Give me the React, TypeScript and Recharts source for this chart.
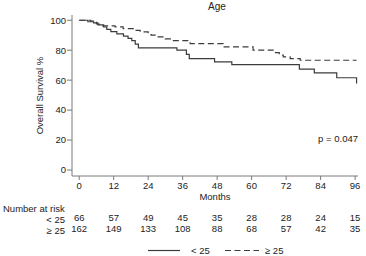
import { LineChart, Line, XAxis, YAxis } from "recharts";

// survival steps (month, % surviving after that month)
const youngMonths = [0, 3, 5, 6.5, 8.5, 9.6, 11, 13.1, 15.4, 17, 18.3, 19.5, 20.6, 34, 37.3, 38.3, 47.1, 53.1, 76.6, 81.8, 89.6, 96.5];
const youngSurv = [100, 99, 98.2, 96.9, 95.5, 93.9, 92.4, 90.9, 89.4, 87.9, 86.4, 84.1, 81.5, 80, 77.2, 74.4, 72.2, 70.4, 67.3, 64.9, 61.6, 57.8];

const olderMonths = [0, 4, 5, 6, 7, 12.5, 15.3, 19.8, 21.2, 24, 25, 26.4, 29.9, 31.7, 38.6, 50.1, 60.5, 67.8, 69.6, 71, 73.4, 76.9, 96.5];
const olderSurv = [100, 99.4, 98.8, 97.5, 96.3, 95.6, 94.4, 93.3, 92.2, 91.1, 90, 88.9, 87.5, 86.4, 84.4, 82.2, 80, 78.4, 76.8, 75.6, 74.4, 73.3, 73.3];

const monthTicks = [0, 12, 24, 36, 48, 60, 72, 84, 96];
const survTicks = [0, 20, 40, 60, 80, 100];
const riskYoung = [66, 57, 49, 45, 35, 28, 28, 24, 15];
const riskOlder = [162, 149, 133, 108, 88, 68, 57, 42, 35];

const young = youngMonths.map((m, i) => ({ m, s: youngSurv[i] }));
const older = olderMonths.map((m, i) => ({ m, s: olderSurv[i] }));

const FONT = '"Liberation Sans", Arial, sans-serif';
const INK = "#222";
const AXIS = "#7a7a7a";
const LINE = "#3c3c3c";
const xDomain: [number, number] = [-2.5, 97];

function riskLabel(counts: number[]) {
  return (v: number) => {
    const i = monthTicks.indexOf(Math.round(v));
    return i < 0 ? "" : String(counts[i]);
  };
}

export default function App() {
  return (
    <div style={{ position: "absolute", left: 0, top: 0, width: 366, height: 256, fontFamily: FONT, background: "#fff" }}>
      <LineChart width={366} height={256} margin={{ top: 15, right: 8, bottom: 20, left: 8 }}>
        <XAxis
          xAxisId="main"
          type="number"
          dataKey="m"
          domain={xDomain}
          allowDataOverflow
          ticks={monthTicks}
          stroke={AXIS}
          tickSize={4}
          tickMargin={2}
          tick={{ fontSize: 9.5, fill: INK }}
          height={27}
          label={{ value: "Months", position: "insideBottom", offset: 3, fontSize: 9.5, fill: INK }}
        />
        {/* number-at-risk rows share the month scale */}
        <XAxis
          xAxisId="r1"
          type="number"
          dataKey="m"
          domain={xDomain}
          allowDataOverflow
          ticks={monthTicks}
          tickFormatter={riskLabel(riskYoung)}
          axisLine={false}
          tickLine={false}
          tickSize={0}
          tickMargin={11}
          tick={{ fontSize: 9.5, fill: INK }}
          height={22}
        />
        <XAxis
          xAxisId="r2"
          type="number"
          dataKey="m"
          domain={xDomain}
          allowDataOverflow
          ticks={monthTicks}
          tickFormatter={riskLabel(riskOlder)}
          axisLine={false}
          tickLine={false}
          tickSize={0}
          tickMargin={0}
          tick={{ fontSize: 9.5, fill: INK }}
          height={11}
        />
        <YAxis
          type="number"
          domain={[-4, 103.5]}
          allowDataOverflow
          ticks={survTicks}
          stroke={AXIS}
          tickSize={5}
          tickMargin={1}
          width={64}
          tick={{ fontSize: 9.5, fill: INK }}
          label={{ value: "Overall Survival %", angle: -90, position: "center", fontSize: 9.5, fill: INK }}
        />
        <Line xAxisId="main" data={young} dataKey="s" type="stepAfter" stroke={LINE} strokeWidth={1.2} dot={false} isAnimationActive={false} />
        <Line xAxisId="main" data={older} dataKey="s" type="stepAfter" stroke={LINE} strokeWidth={1.2} strokeDasharray="6 3.5" dot={false} isAnimationActive={false} />
        <Line xAxisId="r1" data={young} dataKey="s" stroke="none" dot={false} activeDot={false} isAnimationActive={false} legendType="none" />
        <Line xAxisId="r2" data={older} dataKey="s" stroke="none" dot={false} activeDot={false} isAnimationActive={false} legendType="none" />
      </LineChart>
      <svg width={366} height={256} style={{ position: "absolute", left: 0, top: 0, pointerEvents: "none" }} fontFamily={FONT} fontSize={9.5} fill={INK}>
        <text x={217} y={10} textAnchor="middle" fontSize={10}>Age</text>
        <text x={358} y={141.5} textAnchor="end">p = 0.047</text>
        <text x={3} y={211.5}>Number at risk</text>
        <text x={65} y={222.5} textAnchor="end">&lt; 25</text>
        <text x={65} y={233.5} textAnchor="end">≥ 25</text>
        <line x1={148} x2={180} y1={250.5} y2={250.5} stroke={LINE} strokeWidth={1.2} />
        <text x={191} y={254}>&lt; 25</text>
        <line x1={225} x2={259} y1={250.5} y2={250.5} stroke={LINE} strokeWidth={1.2} strokeDasharray="6 3.5" />
        <text x={265} y={254}>≥ 25</text>
      </svg>
    </div>
  );
}
